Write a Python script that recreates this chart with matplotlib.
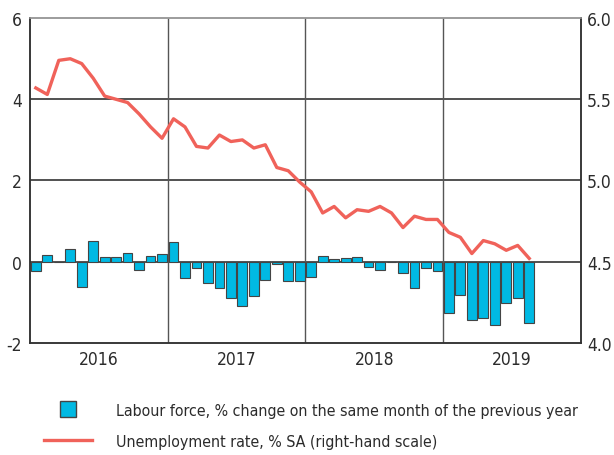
import numpy as np
import matplotlib.pyplot as plt
from matplotlib.lines import Line2D
from matplotlib.ticker import FormatStrFormatter

plt.rcParams['font.family'] = ['DejaVu Sans']
plt.rcParams['font.stretch'] = 'condensed'
plt.rcParams['axes.unicode_minus'] = False

# monthly data, Jan 2016 - Aug 2019
labour_force = [-0.22, 0.16, 0.0, 0.32, -0.63, 0.52, 0.11, 0.11, 0.21, -0.20, 0.15, 0.18,
                0.48, -0.40, -0.16, -0.52, -0.66, -0.90, -1.09, -0.84, -0.45, -0.07, -0.48, -0.48,
                -0.38, 0.15, 0.07, 0.10, 0.12, -0.14, -0.20, 0.0, -0.28, -0.66, -0.15, -0.24,
                -1.26, -0.83, -1.43, -1.39, -1.56, -1.02, -0.90, -1.51]
unemployment = [5.57, 5.53, 5.74, 5.75, 5.72, 5.63, 5.52, 5.50, 5.48, 5.41, 5.33, 5.26,
                5.38, 5.33, 5.21, 5.20, 5.28, 5.24, 5.25, 5.20, 5.22, 5.08, 5.06, 4.99,
                4.93, 4.80, 4.84, 4.77, 4.82, 4.81, 4.84, 4.80, 4.71, 4.78, 4.76, 4.76,
                4.68, 4.65, 4.55, 4.63, 4.61, 4.57, 4.60, 4.52]
years = ['2016', '2017', '2018', '2019']

bar_col = '#00b9e3'
line_col = '#f0625a'
txt_col = '#2b2b2b'

x = np.arange(len(labour_force))

fig = plt.figure(figsize=(6.14, 4.56), dpi=100)
ax = fig.add_axes([0.049, 0.246, 0.897, 0.712])

for y in [0, 2, 4]:
    ax.axhline(y, color='#222222', lw=1.1, zorder=1)
for xb in [11.5, 23.5, 35.5]:
    ax.axvline(xb, color='#555555', lw=1.0, zorder=1)

ax.bar(x, labour_force, width=0.85, color=bar_col, edgecolor='#444444', lw=0.8, zorder=2)
ax.set_xlim(-0.5, 47.5)
ax.set_ylim(-2, 6)
ax.set_yticks([-2, 0, 2, 4, 6])
ax.set_xticks([5.5, 17.5, 29.5, 41.5])
ax.set_xticklabels(years)
ax.tick_params(length=0, labelsize=12.5, colors=txt_col)
ax.tick_params(axis='y', pad=6)
ax.tick_params(axis='x', pad=5)

ax2 = ax.twinx()
ax2.plot(x, unemployment, color=line_col, lw=2.4, zorder=3)
ax2.set_ylim(4.0, 6.0)
ax2.set_yticks([4.0, 4.5, 5.0, 5.5, 6.0])
ax2.yaxis.set_major_formatter(FormatStrFormatter('%.1f'))
ax2.tick_params(length=0, labelsize=12.5, colors=txt_col, pad=4.5)

for a in (ax, ax2):
    for s in a.spines.values():
        s.set_color('#333333')
        s.set_linewidth(1.1)
    a.spines['top'].set_color('#999999')

handles = [Line2D([], [], marker='s', markersize=11.5, markerfacecolor=bar_col,
                  markeredgecolor='#444444', linestyle='none'),
           Line2D([], [], color=line_col, lw=2.4)]
labels = ['Labour force, % change on the same month of the previous year',
          'Unemployment rate, % SA (right-hand scale)']
fig.legend(handles, labels, loc='upper left', bbox_to_anchor=(0.0717, 0.115),
           frameon=False, fontsize=11.4, handlelength=3.04, handletextpad=1.52,
           labelspacing=1.04, borderaxespad=0, borderpad=0, labelcolor=txt_col)

plt.savefig('out.png', dpi=100)
